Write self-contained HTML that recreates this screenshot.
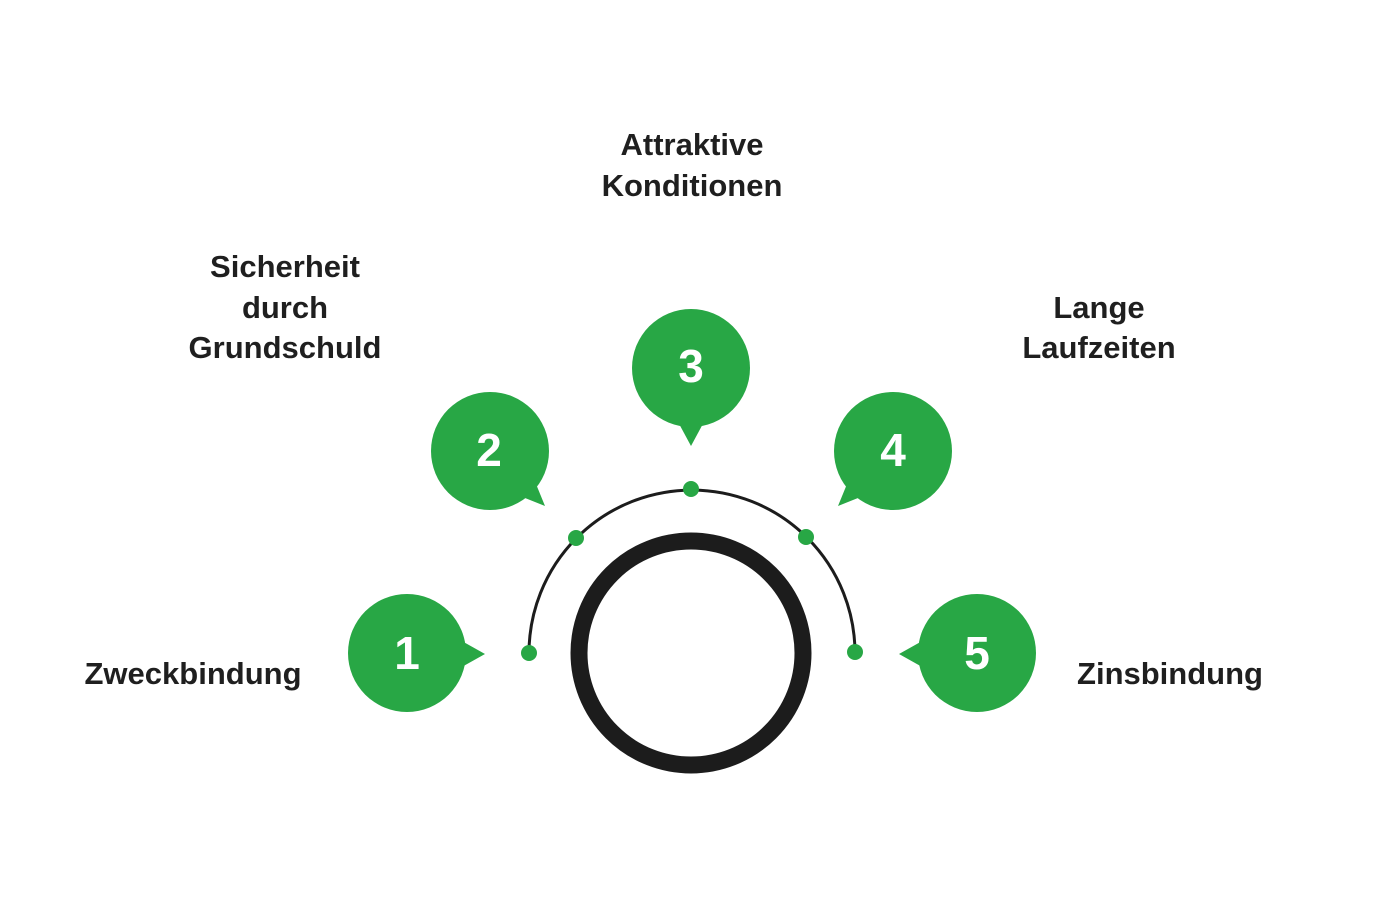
<!DOCTYPE html>
<html><head><meta charset="utf-8"><style>
html,body{margin:0;padding:0;background:#fff}
svg{display:block}
text{font-family:"Liberation Sans",sans-serif;font-weight:bold}
</style></head><body>
<svg width="1384" height="918" viewBox="0 0 1384 918" xmlns="http://www.w3.org/2000/svg">
<rect width="1384" height="918" fill="#fff"/>
<path d="M529 653 A163 163 0 0 1 855 653" fill="none" stroke="#1c1c1c" stroke-width="3"/>
<circle cx="691" cy="653" r="112" fill="none" stroke="#1c1c1c" stroke-width="17"/>
<g fill="#28a745">
<circle cx="529" cy="653" r="8"/><circle cx="576" cy="538" r="8"/><circle cx="691" cy="489" r="8"/><circle cx="806" cy="537" r="8"/><circle cx="855" cy="652" r="8"/>
<circle cx="407" cy="653" r="59"/><polygon points="460,640 485,654 460,668"/>
<circle cx="490" cy="451" r="59"/><polygon points="520,496 545,506 536,484"/>
<circle cx="691" cy="368" r="59"/><polygon points="677,420 691,446 705,420"/>
<circle cx="893" cy="451" r="59"/><polygon points="863,496 838,506 847,484"/>
<circle cx="977" cy="653" r="59"/><polygon points="924,640 899,654 924,668"/>
</g>
<g fill="#fff" font-size="46" text-anchor="middle">
<text x="407" y="669">1</text><text x="489" y="466">2</text><text x="691" y="382">3</text><text x="893" y="466">4</text><text x="977" y="669">5</text>
</g>
<g fill="#1f1f1f" font-size="31" text-anchor="middle">
<text x="193" y="684">Zweckbindung</text>
<text x="285" y="277">Sicherheit</text><text x="285" y="318">durch</text><text x="285" y="358">Grundschuld</text>
<text x="692" y="155">Attraktive</text><text x="692" y="196">Konditionen</text>
<text x="1099" y="318">Lange</text><text x="1099" y="358">Laufzeiten</text>
<text x="1170" y="684">Zinsbindung</text>
</g>
</svg>
</body></html>
